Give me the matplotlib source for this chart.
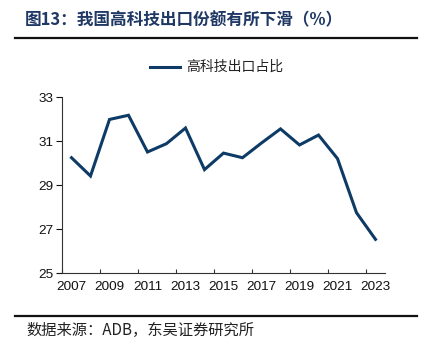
import matplotlib
matplotlib.use("Agg")
import matplotlib.pyplot as plt
from matplotlib.lines import Line2D
from matplotlib.ticker import FixedLocator, NullFormatter

plt.rcParams['font.family'] = ['Liberation Sans', 'Noto Sans CJK SC', 'DejaVu Sans']

years = [str(y) for y in range(2007, 2024)]
share = [30.24, 29.41, 31.98, 32.17, 30.50, 30.88, 31.59, 29.70, 30.45,
         30.24, 30.91, 31.55, 30.82, 31.27, 30.20, 27.74, 26.53]
series_name = "高科技出口占比"
title = "图13：我国高科技出口份额有所下滑（%）"
source = "数据来源：ADB，东吴证券研究所"
yticks = [25, 27, 29, 31, 33]

W, H = 430, 355
fig = plt.figure(figsize=(W / 100, H / 100), dpi=100)

ax = fig.add_axes([62 / W, 1 - 273 / H, (385 - 62) / W, (273 - 97) / H])
x = list(range(len(years)))
ax.plot(x, share, color='#0d3b66', lw=2.2, solid_joinstyle='miter')

ax.set_xlim(-0.5, len(years) - 0.5)
ax.set_ylim(25, 33)
ax.set_yticks(yticks)
ax.set_yticklabels([str(v) for v in yticks])
ax.set_xticks(x[::2])
ax.set_xticklabels(years[::2])
ax.tick_params(axis='x', length=0, pad=6, labelsize=9.7, colors='#111111')
ax.xaxis.set_minor_locator(FixedLocator([i + 0.5 for i in range(-1, len(years) - 1, 2)]))
ax.xaxis.set_minor_formatter(NullFormatter())
ax.tick_params(axis='x', which='minor', direction='in', length=3, width=0.8, color='#333333')
ax.tick_params(axis='y', direction='out', length=4, width=0.8, labelsize=9.7,
               colors='#111111', pad=2)
for s in ['top', 'right']:
    ax.spines[s].set_visible(False)
for s in ['left', 'bottom']:
    ax.spines[s].set_linewidth(0.8)
    ax.spines[s].set_color('#333333')

# legend
fig.add_artist(Line2D([150 / W, 180 / W], [1 - 67 / H, 1 - 67 / H],
                      color='#0d3b66', lw=2.2, transform=fig.transFigure))
fig.text(186 / W, 1 - 67 / H, series_name, fontsize=10, va='center', ha='left',
         family=['Noto Sans CJK SC'], color='#222222')

# title
fig.text(25 / W, 1 - 20.5 / H, title, fontsize=12, fontweight='bold', va='center',
         ha='left', family=['Noto Sans CJK SC', 'DejaVu Sans'], color='#1f3864')
fig.add_artist(Line2D([15 / W, 417 / W], [1 - 37.5 / H, 1 - 37.5 / H],
                      color='#111111', lw=1.6, transform=fig.transFigure))

# bottom rule and source
fig.add_artist(Line2D([15 / W, 417 / W], [1 - 316 / H, 1 - 316 / H],
                      color='#111111', lw=1.6, transform=fig.transFigure))
fig.text(26 / W, 1 - 330 / H, source, fontsize=11, va='center', ha='left',
         family=['Noto Sans CJK SC', 'DejaVu Sans'], color='#222222')

fig.savefig('out.png', dpi=100)
